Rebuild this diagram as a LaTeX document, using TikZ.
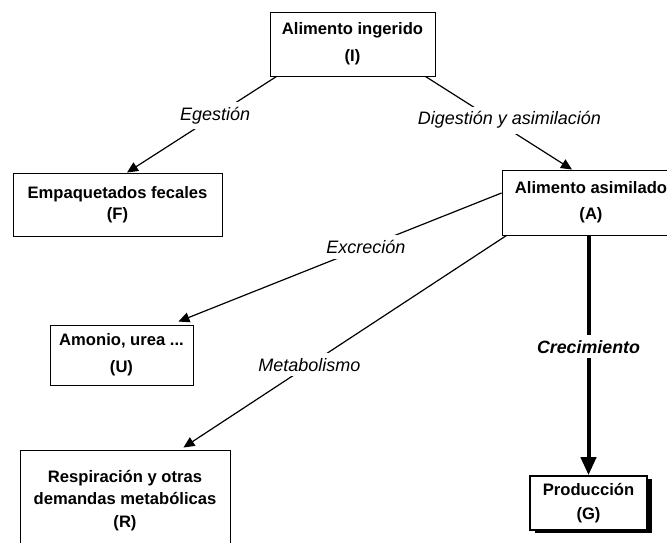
\documentclass[tikz,border=0pt]{standalone}
\usepackage{fontspec}
\setmainfont{Liberation Sans}
\usepackage{tikz}
\usetikzlibrary{arrows.meta, positioning, shadows}

\begin{document}
\begin{tikzpicture}[x=1pt, y=1pt,
    box/.style={draw, line width=0.9pt, align=center, inner sep=2pt,
        font=\bfseries\fontsize{16.6}{24}\selectfont},
    lbl/.style={fill=white, inner sep=5pt, font=\itshape\fontsize{18}{20}\selectfont},
    flow/.style={line width=1.2pt, -{Triangle[length=11pt, width=10pt]}}]
    \useasboundingbox (0,0) rectangle (667,542);

    % Boxes
    \node[box, minimum width=165, minimum height=64] (ing) at (352.5,498)
        {Alimento ingerido\\[3pt](I)};
    \node[box, minimum width=209, minimum height=63] (fec) at (117.5,337.5)
        {Empaquetados fecales\\[-3pt](F)};
    \node[box, minimum width=178, minimum height=65] (asi) at (591,339.5)
        {Alimento asimilado\\[2pt](A)};
    \node[box, minimum width=143, minimum height=60] (amo) at (121.5,187)
        {Amonio, urea ...\\[3pt](U)};
    \node[box, minimum width=210, minimum height=102] (res) at (125,41)
        {Respiración y otras\\[-2pt]demandas metabólicas\\[-1pt](R)};
    \node[box, line width=1.6pt, fill=white, minimum width=117, minimum height=54,
        drop shadow={shadow xshift=5pt, shadow yshift=-3pt, fill=black, opacity=1}]
        (pro) at (588.5,39) {Producción\\(G)};

    % Flows
    \draw[flow] ([xshift=7]ing.south west) -- node[lbl, pos=0.41] {Egestión}
        ([xshift=9.5]fec.north);
    \draw[flow] ([xshift=-10]ing.south east) -- node[lbl, pos=0.47, xshift=15] {Digestión y asimilación}
        ([xshift=-19]asi.north);
    \draw[flow] ([yshift=9.5]asi.west) -- node[lbl, pos=0.42] {Excreción}
        ([xshift=-15, yshift=3]amo.north east);
    \draw[flow] ([xshift=5]asi.south west) -- node[lbl, pos=0.61] {Metabolismo}
        ([xshift=-47, yshift=2]res.north east);
    \draw[line width=4pt, -{Triangle[length=18pt, width=15pt]}] (asi.south -| pro.north) --
        node[lbl, pos=0.465, font=\bfseries\itshape\fontsize{17.8}{20}\selectfont] {Crecimiento}
        (pro.north);
\end{tikzpicture}
\end{document}
